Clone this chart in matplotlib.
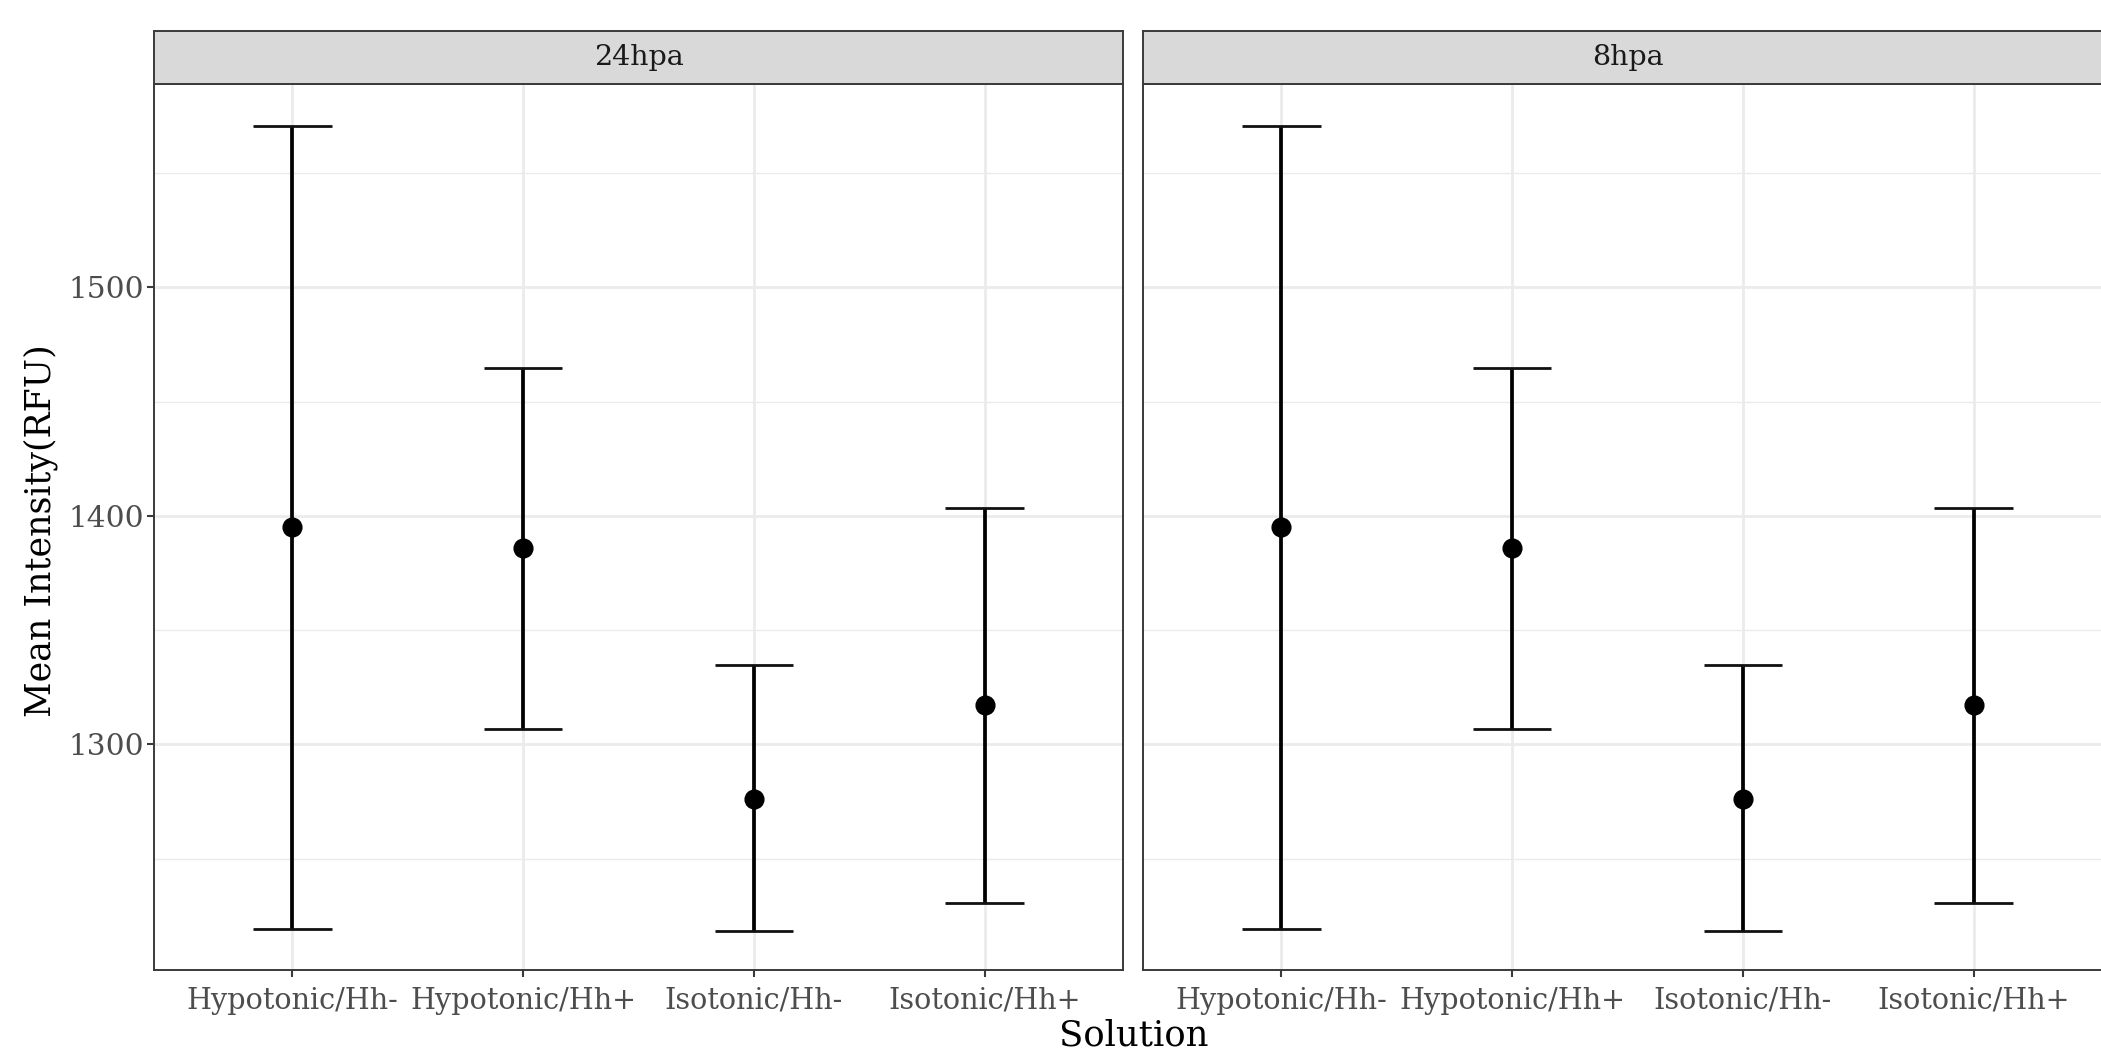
import matplotlib
matplotlib.use("Agg")
import matplotlib.pyplot as plt
from matplotlib.ticker import FixedLocator

# ---- data ----
panels = ["24hpa", "8hpa"]
solutions = ["Hypotonic/Hh-", "Hypotonic/Hh+", "Isotonic/Hh-", "Isotonic/Hh+"]
mean_24 = [1395.3, 1385.9, 1276.2, 1317.3]
lower_24 = [1219.4, 1306.7, 1218.2, 1230.5]
upper_24 = [1570.7, 1464.5, 1334.9, 1403.5]
mean_8 = [1395.3, 1385.9, 1276.2, 1317.3]
lower_8 = [1219.4, 1306.7, 1218.2, 1230.5]
upper_8 = [1570.7, 1464.5, 1334.9, 1403.5]
y_major = [1300, 1400, 1500]
y_minor = [1250, 1350, 1450, 1550]

plt.rcParams["font.family"] = ["DejaVu Serif"]

W, H = 2101, 1051
fig = plt.figure(figsize=(W / 100, H / 100), dpi=100)

def fx(px):
    return px / W

def fy(px):
    return 1 - px / H

panel_top, panel_bot = 84.4, 970.0
strip_top = 30.8
panel_w = 969.0
lefts = [154.0, 1143.0]

data = {
    "24hpa": (mean_24, lower_24, upper_24),
    "8hpa": (mean_8, lower_8, upper_8),
}

border_col = "#3A3A3A"
grid_col = "#EBEBEB"
cap_half = 0.17

for i, (pname, left) in enumerate(zip(panels, lefts)):
    ax = fig.add_axes([fx(left), fy(panel_bot), panel_w / W, (panel_bot - panel_top) / H])
    m, lo, hi = data[pname]
    xs = list(range(1, len(solutions) + 1))
    ax.set_xlim(0.4, 4.6)
    ax.set_ylim(1201.3, 1588.8)
    ax.yaxis.set_major_locator(FixedLocator(y_major))
    ax.yaxis.set_minor_locator(FixedLocator(y_minor))
    ax.set_xticks(xs)
    ax.set_xticklabels(solutions)
    ax.grid(True, which="major", color=grid_col, linewidth=2.0, zorder=0)
    ax.grid(True, which="minor", axis="y", color=grid_col, linewidth=1.0, zorder=0)
    ax.set_axisbelow(True)
    ax.vlines(xs, lo, hi, color="black", linewidth=2.7, zorder=3)
    ax.hlines(lo, [x - cap_half for x in xs], [x + cap_half for x in xs], color="#111111", linewidth=2.0, zorder=3)
    ax.hlines(hi, [x - cap_half for x in xs], [x + cap_half for x in xs], color="#111111", linewidth=2.0, zorder=3)
    ax.plot(xs, m, "o", color="black", markersize=13.5, zorder=4)
    for s in ax.spines.values():
        s.set_color(border_col)
        s.set_linewidth(1.4)
    ax.tick_params(axis="both", which="major", length=5, width=1.5, color=border_col,
                   labelcolor="#4D4D4D")
    ax.tick_params(axis="y", which="major", pad=2.5, labelsize=21.3)
    ax.tick_params(axis="x", which="major", pad=7, labelsize=20.6)
    ax.tick_params(axis="y", which="minor", length=0)
    if i > 0:
        ax.tick_params(axis="y", which="major", left=False, labelleft=False)
    # strip
    sax = fig.add_axes([fx(left), fy(panel_top), panel_w / W, (panel_top - strip_top) / H])
    sax.set_facecolor("#D9D9D9")
    sax.set_xticks([])
    sax.set_yticks([])
    for s in sax.spines.values():
        s.set_color(border_col)
        s.set_linewidth(1.4)
    sax.text(0.5, 0.5, pname, transform=sax.transAxes, ha="center", va="center",
             fontsize=20.5, color="#1A1A1A")

fig.text(fx(41), fy((panel_top + panel_bot) / 2 + 3), "Mean Intensity(RFU)", rotation=90,
         ha="center", va="center", fontsize=25, color="black")
fig.text(fx(1133.5), fy(1036), "Solution", ha="center", va="center", fontsize=25.5, color="black")

fig.savefig("out.png", dpi=100)
